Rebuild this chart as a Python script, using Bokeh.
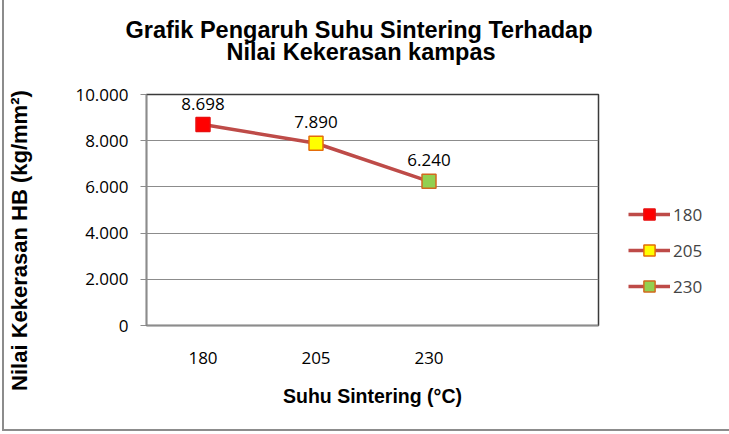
from bokeh.plotting import figure
from bokeh.models import (FactorRange, Range1d, FixedTicker, Legend, LegendItem,
                          ColumnDataSource, Title)
from bokeh.core.properties import value
from bokeh.embed import file_html
from bokeh.resources import INLINE

title_lines = ["Grafik Pengaruh Suhu Sintering Terhadap", "Nilai Kekerasan kampas"]
x_title = "Suhu Sintering (°C)"
y_title = "Nilai Kekerasan HB (kg/mm²)"
categories = ["180", "205", "230"]
hardness = [8.698, 7.890, 6.240]
value_labels = ["8.698", "7.890", "6.240"]
fill_colors = ["#FF0000", "#FFFF00", "#92D050"]
edge_colors = ["#E81010", "#E46C0A", "#D2691E"]
y_ticks = [0, 2, 4, 6, 8, 10]
y_tick_labels = ["0", "2.000", "4.000", "6.000", "8.000", "10.000"]

LINE = "#BE4B48"
LBL_FONT = "Open Sans"
TTL_FONT = "Liberation Sans"
GRAY = "#8c8c8c"

factors = categories + [" "]
p = figure(x_range=FactorRange(*factors, range_padding=0), y_range=Range1d(0, 10),
           frame_width=452, frame_height=231,
           min_border_left=142, min_border_right=125, min_border_top=94, min_border_bottom=104,
           output_backend="svg", toolbar_location=None, background_fill_color="white",
           border_fill_color="white")
p.styles = {"border-left": f"2px solid {GRAY}", "border-right": f"2px solid {GRAY}",
            "border-bottom": f"2px solid {GRAY}", "margin-left": "2px",
            "box-sizing": "content-box"}

p.outline_line_color = "#3a3a3a"
p.outline_line_width = 1.5
p.xgrid.grid_line_color = None
p.ygrid.grid_line_color = GRAY
p.ygrid.grid_line_width = 1

p.yaxis.ticker = FixedTicker(ticks=y_ticks)
p.yaxis.major_label_overrides = {t: l for t, l in zip(y_ticks, y_tick_labels)}
p.yaxis.major_label_text_font = LBL_FONT
p.yaxis.major_label_text_font_size = "17px"
p.yaxis.major_label_text_color = "black"
p.yaxis.axis_line_color = GRAY
p.yaxis.axis_line_width = 1.5
p.yaxis.major_tick_line_color = GRAY
p.yaxis.major_tick_in = 0
p.yaxis.major_tick_out = 6
p.yaxis.minor_tick_line_color = None
p.yaxis.major_label_standoff = 12
# trailing no-break spaces nudge the centred title down, as in the reference
p.yaxis.axis_label = y_title + "\u00a0" * 10
p.yaxis.axis_label_text_font = TTL_FONT
p.yaxis.axis_label_text_font_style = "bold"
p.yaxis.axis_label_text_font_size = "22px"
p.yaxis.axis_label_text_color = "black"
p.yaxis.axis_label_standoff = 40

p.xaxis.major_label_text_font = LBL_FONT
p.xaxis.major_label_text_font_size = "17px"
p.xaxis.major_label_text_color = "black"
p.xaxis.axis_line_color = GRAY
p.xaxis.axis_line_width = 1.5
p.xaxis.major_tick_line_color = None
p.xaxis.minor_tick_line_color = None
p.xaxis.major_label_standoff = 14
p.xaxis.axis_label = x_title
p.xaxis.axis_label_text_font = TTL_FONT
p.xaxis.axis_label_text_font_style = "bold"
p.xaxis.axis_label_text_font_size = "19.5px"
p.xaxis.axis_label_text_color = "black"
p.xaxis.axis_label_standoff = 13

src = ColumnDataSource(dict(x=categories, y=hardness, lab=value_labels,
                            fill=fill_colors, edge=edge_colors))
line_r = p.line("x", "y", source=src, line_color=LINE, line_width=3.5)
sc_r = p.scatter("x", "y", source=src, marker="square", size=14,
                 fill_color="fill", line_color="edge", line_width=1.5)
p.text("x", "y", text="lab", source=src, text_align="center", text_baseline="middle",
       y_offset=-21, text_font=value(LBL_FONT), text_font_size="17px", text_color="black")

items = [LegendItem(label=c, renderers=[line_r, sc_r], index=i) for i, c in enumerate(categories)]
legend = Legend(items=items, location=(30, 25), padding=0, margin=0, spacing=8,
                glyph_width=42, glyph_height=28, label_height=28, label_standoff=3,
                label_text_font=LBL_FONT, label_text_font_size="17px",
                border_line_color=None, background_fill_alpha=0)
p.add_layout(legend, "right")

# chart title (two lines); first added sits closest to the frame
p.add_layout(Title(text=title_lines[1], align="left", offset=80, standoff=60,
                   text_font=TTL_FONT, text_font_style="bold", text_font_size="23.5px",
                   text_color="black"), "above")
p.add_layout(Title(text=title_lines[0], align="left", offset=-21, standoff=-73,
                   text_font=TTL_FONT, text_font_style="bold", text_font_size="23.5px",
                   text_color="black"), "above")

open("out.html", "w").write(file_html(p, INLINE))
